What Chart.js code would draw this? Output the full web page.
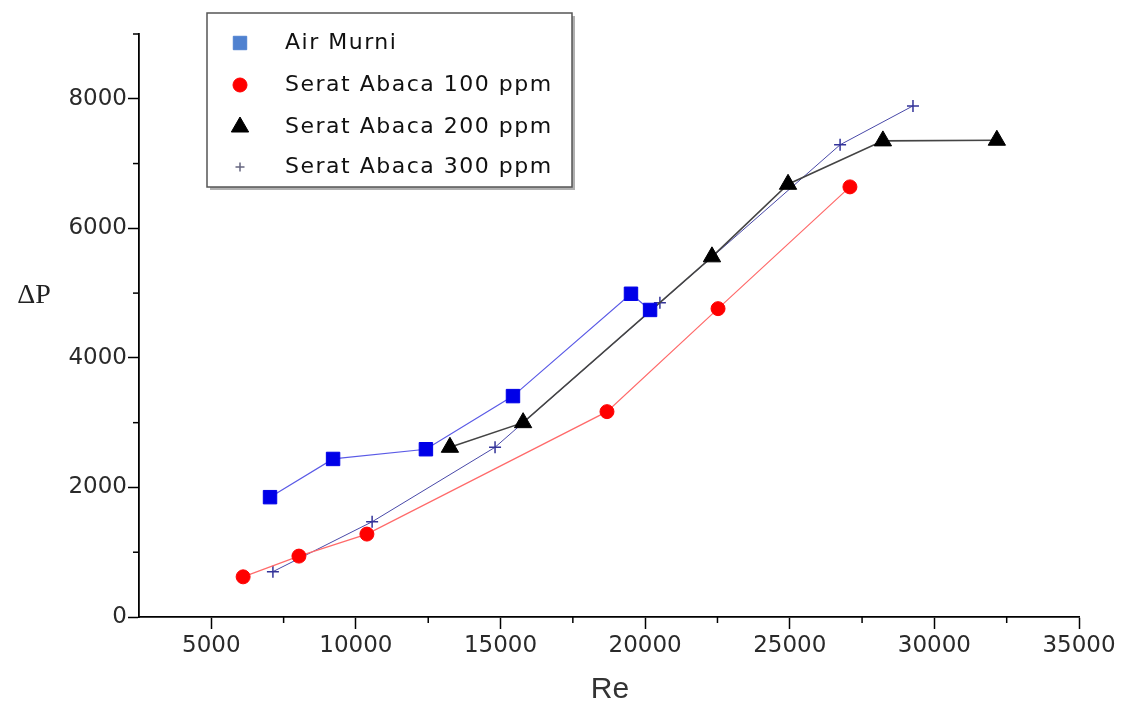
<!DOCTYPE html>
<html>
<head>
<meta charset="utf-8">
<script src="https://cdn.jsdelivr.net/npm/chart.js@4"></script>
<style>
  html, body { margin: 0; padding: 0; background: #fff; }
  #wrap { width: 1130px; height: 707px; }
</style>
</head>
<body>
<div id="wrap"><canvas id="reChart" width="1130" height="707"></canvas></div>
<script>
// values (Re vs pressure drop)
const airMurniRe = [7030, 9210, 12420, 15430, 19510, 20170];
const airMurniDP = [1850, 2440, 2590, 3410, 4990, 4740];
const abaca100Re = [6100, 8030, 10380, 18680, 22520, 27080];
const abaca100DP = [620, 940, 1280, 3170, 4760, 6640];
const abaca200Re = [13250, 15780, 22310, 24940, 28220, 32160];
const abaca200DP = [2620, 3000, 5560, 6680, 7350, 7360];
const abaca300Re = [7130, 10560, 14810, 20510, 26740, 29260];
const abaca300DP = [700, 1470, 2620, 4850, 7290, 7890];

const seriesNames = ['Air Murni', 'Serat Abaca 100 ppm', 'Serat Abaca 200 ppm', 'Serat Abaca 300 ppm'];
const xTickLabels = [5000, 10000, 15000, 20000, 25000, 30000, 35000];
const yTickLabels = [0, 2000, 4000, 6000, 8000];

function toPoints(xs, ys) {
  return xs.map((x, i) => ({ x: x, y: ys[i] }));
}

const legendColors = ['#4f81d0', '#ff0000', '#000000', '#666680'];

// minor ticks, axis titles and the boxed legend
const extrasPlugin = {
  id: 'extras',
  afterDraw(chart) {
    const ctx = chart.ctx;
    const xs = chart.scales.x, ys = chart.scales.y;
    ctx.save();
    ctx.strokeStyle = '#000';
    ctx.lineWidth = 1.5;
    xs.ticks.forEach(t => {
      if (xTickLabels.includes(t.value) || t.value === xs.min) return;
      const px = xs.getPixelForValue(t.value);
      ctx.beginPath();
      ctx.moveTo(px, xs.top);
      ctx.lineTo(px, xs.top + 6);
      ctx.stroke();
    });
    ys.ticks.forEach(t => {
      if (yTickLabels.includes(t.value)) return;
      const py = ys.getPixelForValue(t.value);
      ctx.beginPath();
      ctx.moveTo(ys.right, py);
      ctx.lineTo(ys.right - 6, py);
      ctx.stroke();
    });

    // axis titles
    ctx.fillStyle = '#222';
    ctx.font = '28px "Liberation Serif"';
    ctx.textAlign = 'center';
    ctx.textBaseline = 'middle';
    ctx.fillText('\u0394P', 34, 296);
    ctx.fillStyle = '#333';
    ctx.font = '30px "Liberation Sans"';
    ctx.fillText('Re', 610, 690);

    // legend box
    const bx = 207, by = 13, bw = 365, bh = 174;
    ctx.fillStyle = '#b0b0b0';
    ctx.fillRect(bx + 3, by + 3, bw, bh);
    ctx.fillStyle = '#fff';
    ctx.fillRect(bx, by, bw, bh);
    ctx.strokeStyle = '#555';
    ctx.lineWidth = 1.5;
    ctx.strokeRect(bx, by, bw, bh);

    const rows = [43, 85, 127, 167];
    chart.data.datasets.forEach((ds, i) => {
      const cy = rows[i];
      const style = {
        pointStyle: ds.pointStyle,
        radius: i === 3 ? 4.5 : ds.pointRadius,
        rotation: 0,
        borderWidth: ds.pointBorderWidth
      };
      ctx.fillStyle = legendColors[i];
      ctx.strokeStyle = legendColors[i];
      ctx.lineWidth = ds.pointBorderWidth;
      Chart.helpers.drawPoint(ctx, style, 240, cy);
      ctx.fillStyle = '#111';
      ctx.textAlign = 'left';
      ctx.font = '22px "DejaVu Sans"';
      ctx.letterSpacing = '1.5px';
      ctx.fillText(ds.label, 285, cy);
      ctx.letterSpacing = '0px';
    });
    ctx.restore();
  }
};

const reChart = new Chart(document.getElementById('reChart').getContext('2d'), {
  type: 'scatter',
  data: {
    datasets: [
      {
        label: seriesNames[0],
        data: toPoints(airMurniRe, airMurniDP),
        showLine: true,
        borderColor: '#5a5ae6',
        borderWidth: 1.2,
        pointStyle: 'rect',
        pointRadius: 9.5,
        pointBackgroundColor: '#0000e8',
        pointBorderColor: '#0000e8',
        pointBorderWidth: 1
      },
      {
        label: seriesNames[1],
        data: toPoints(abaca100Re, abaca100DP),
        showLine: true,
        borderColor: '#ff6a6a',
        borderWidth: 1.2,
        pointStyle: 'circle',
        pointRadius: 7,
        pointBackgroundColor: '#ff0000',
        pointBorderColor: '#ff0000',
        pointBorderWidth: 1
      },
      {
        label: seriesNames[2],
        data: toPoints(abaca200Re, abaca200DP),
        showLine: true,
        borderColor: '#444',
        borderWidth: 1.6,
        pointStyle: 'triangle',
        pointRadius: 10,
        pointBackgroundColor: '#000',
        pointBorderColor: '#000',
        pointBorderWidth: 1
      },
      {
        label: seriesNames[3],
        data: toPoints(abaca300Re, abaca300DP),
        showLine: true,
        borderColor: '#4848a8',
        borderWidth: 1,
        pointStyle: 'cross',
        pointRadius: 6,
        pointBackgroundColor: '#333399',
        pointBorderColor: '#333399',
        pointBorderWidth: 1.5
      }
    ]
  },
  options: {
    responsive: false,
    animation: false,
    layout: { padding: { top: 34, right: 51, left: 0, bottom: 0 } },
    plugins: {
      legend: { display: false },
      tooltip: { enabled: false }
    },
    scales: {
      x: {
        type: 'linear',
        min: 2500,
        max: 35000,
        afterFit: function (scale) { scale.height = 90; },
        border: { display: true, color: '#000', width: 1.8 },
        grid: {
          drawOnChartArea: false,
          tickLength: 12,
          tickWidth: 1.5,
          tickColor: ctx => xTickLabels.includes(ctx.tick.value) ? '#000' : 'rgba(0,0,0,0)'
        },
        ticks: {
          stepSize: 2500,
          autoSkip: false,
          maxRotation: 0,
          padding: 3,
          color: '#2a2a2a',
          font: { family: 'DejaVu Sans', size: 23 },
          callback: v => xTickLabels.includes(v) ? String(v) : ''
        }
      },
      y: {
        type: 'linear',
        min: 0,
        max: 9000,
        afterFit: function (scale) { scale.width = 139; },
        border: { display: true, color: '#000', width: 1.8 },
        grid: {
          drawOnChartArea: false,
          tickLength: 11,
          tickWidth: 1.5,
          tickColor: ctx => yTickLabels.includes(ctx.tick.value) ? '#000' : 'rgba(0,0,0,0)'
        },
        ticks: {
          stepSize: 1000,
          autoSkip: false,
          padding: 1,
          color: '#2a2a2a',
          font: { family: 'DejaVu Sans', size: 23 },
          callback: v => yTickLabels.includes(v) ? String(v) : ''
        }
      }
    }
  },
  plugins: [extrasPlugin]
});
</script>
</body>
</html>
